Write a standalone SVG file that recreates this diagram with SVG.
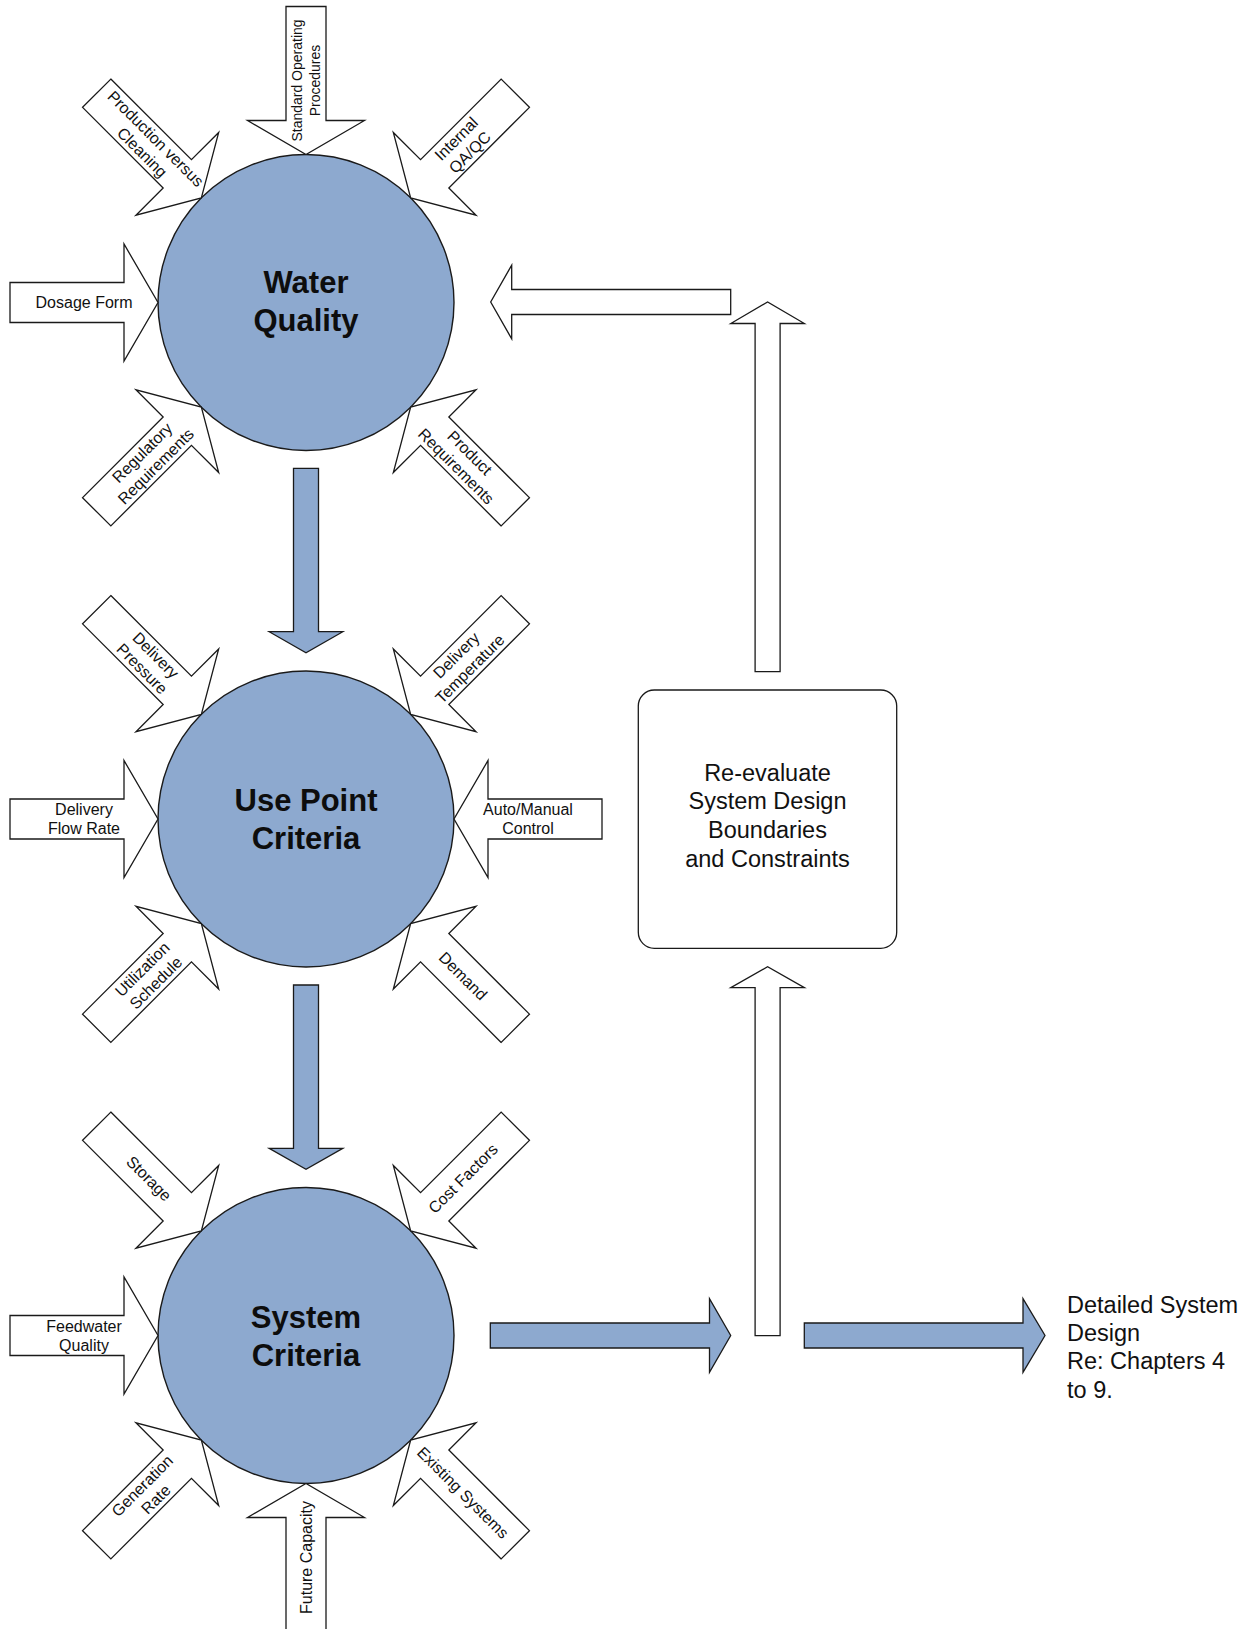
<svg xmlns="http://www.w3.org/2000/svg" xmlns:xlink="http://www.w3.org/1999/xlink" width="1258" height="1629" viewBox="0 0 1258 1629">
  <defs>
    <!-- input arrow: points along +x, tip at the origin -->
    <polygon id="inArrow" points="-148,-20 -34,-20 -34,-58.5 0,0 -34,58.5 -34,20 -148,20"/>
  </defs>
  <style>
    .bg { fill: #ffffff; }
    .hub { fill: #8DA9CF; stroke: #1a1a1a; stroke-width: 1.4; }
    .hubText { font-family: "Liberation Sans", Arial, sans-serif; font-weight: bold; font-size: 31px; fill: #0d0d0d; text-anchor: middle; }
    .in { fill: #ffffff; stroke: #1a1a1a; stroke-width: 1.3; stroke-linejoin: miter; }
    .lbl { font-family: "Liberation Sans", Arial, sans-serif; font-size: 16px; fill: #111111; text-anchor: middle; }
    .lblSm { font-size: 14px; }
    .flowBlue { fill: #8DA9CF; stroke: #1a1a1a; stroke-width: 1.3; }
    .flowWhite { fill: #ffffff; stroke: #1a1a1a; stroke-width: 1.3; }
    .box { fill: #ffffff; stroke: #1a1a1a; stroke-width: 1.3; }
    .boxText { font-family: "Liberation Sans", Arial, sans-serif; font-size: 23.5px; fill: #111111; text-anchor: middle; }
    .outText { font-family: "Liberation Sans", Arial, sans-serif; font-size: 23.5px; fill: #111111; }
  </style>

  <rect class="bg" x="0" y="0" width="1258" height="1629"/>

  <!-- ===== Water Quality ===== -->
  <g id="water-quality">
    <circle class="hub" cx="306" cy="302.5" r="148"/>
    <text class="hubText" x="306" y="293">Water</text>
    <text class="hubText" x="306" y="331">Quality</text>
  </g>
  <g id="wq-sop">
    <use href="#inArrow" class="in" transform="translate(306,154.5) rotate(90)"/>
    <g transform="translate(306,80.5) rotate(-90)">
      <text class="lbl lblSm" x="0" y="-3.8">Standard Operating</text>
      <text class="lbl lblSm" x="0" y="13.5">Procedures</text>
    </g>
  </g>
  <g id="wq-production">
    <use href="#inArrow" class="in" transform="translate(201.35,197.85) rotate(45)"/>
    <g transform="translate(149,145.5) rotate(45)">
      <text class="lbl" x="0" y="-4">Production versus</text>
      <text class="lbl" x="0" y="15.2">Cleaning</text>
    </g>
  </g>
  <g id="wq-qaqc">
    <use href="#inArrow" class="in" transform="translate(410.65,197.85) rotate(135)"/>
    <g transform="translate(463,145.5) rotate(-45)">
      <text class="lbl" x="0" y="-4">Internal</text>
      <text class="lbl" x="0" y="15.2">QA/QC</text>
    </g>
  </g>
  <g id="wq-dosage">
    <use href="#inArrow" class="in" transform="translate(158,302.5)"/>
    <text class="lbl" x="84" y="308.1">Dosage Form</text>
  </g>
  <g id="wq-regulatory">
    <use href="#inArrow" class="in" transform="translate(201.35,407.15) rotate(-45)"/>
    <g transform="translate(149,459.5) rotate(-45)">
      <text class="lbl" x="0" y="-4">Regulatory</text>
      <text class="lbl" x="0" y="15.2">Requirements</text>
    </g>
  </g>
  <g id="wq-product">
    <use href="#inArrow" class="in" transform="translate(410.65,407.15) rotate(-135)"/>
    <g transform="translate(463,459.5) rotate(45)">
      <text class="lbl" x="0" y="-4">Product</text>
      <text class="lbl" x="0" y="15.2">Requirements</text>
    </g>
  </g>

  <!-- ===== Use Point Criteria ===== -->
  <g id="use-point">
    <circle class="hub" cx="306" cy="819" r="148"/>
    <text class="hubText" x="306" y="811">Use Point</text>
    <text class="hubText" x="306" y="849">Criteria</text>
  </g>
  <g id="up-pressure">
    <use href="#inArrow" class="in" transform="translate(201.35,714.35) rotate(45)"/>
    <g transform="translate(149,662) rotate(45)">
      <text class="lbl" x="0" y="-4">Delivery</text>
      <text class="lbl" x="0" y="15.2">Pressure</text>
    </g>
  </g>
  <g id="up-temperature">
    <use href="#inArrow" class="in" transform="translate(410.65,714.35) rotate(135)"/>
    <g transform="translate(463,662) rotate(-45)">
      <text class="lbl" x="0" y="-4">Delivery</text>
      <text class="lbl" x="0" y="15.2">Temperature</text>
    </g>
  </g>
  <g id="up-flow">
    <use href="#inArrow" class="in" transform="translate(158,819)"/>
    <text class="lbl" x="84" y="815">Delivery</text>
    <text class="lbl" x="84" y="834.2">Flow Rate</text>
  </g>
  <g id="up-control">
    <use href="#inArrow" class="in" transform="translate(454,819) rotate(180)"/>
    <text class="lbl" x="528" y="815">Auto/Manual</text>
    <text class="lbl" x="528" y="834.2">Control</text>
  </g>
  <g id="up-schedule">
    <use href="#inArrow" class="in" transform="translate(201.35,923.65) rotate(-45)"/>
    <g transform="translate(149,976) rotate(-45)">
      <text class="lbl" x="0" y="-4">Utilization</text>
      <text class="lbl" x="0" y="15.2">Schedule</text>
    </g>
  </g>
  <g id="up-demand">
    <use href="#inArrow" class="in" transform="translate(410.65,923.65) rotate(-135)"/>
    <g transform="translate(463,976) rotate(45)">
      <text class="lbl" x="0" y="5.6">Demand</text>
    </g>
  </g>

  <!-- ===== System Criteria ===== -->
  <g id="system-criteria">
    <circle class="hub" cx="306" cy="1335.5" r="148"/>
    <text class="hubText" x="306" y="1328">System</text>
    <text class="hubText" x="306" y="1366">Criteria</text>
  </g>
  <g id="sc-storage">
    <use href="#inArrow" class="in" transform="translate(201.35,1230.85) rotate(45)"/>
    <g transform="translate(149,1178.5) rotate(45)">
      <text class="lbl" x="0" y="5.6">Storage</text>
    </g>
  </g>
  <g id="sc-cost">
    <use href="#inArrow" class="in" transform="translate(410.65,1230.85) rotate(135)"/>
    <g transform="translate(463,1178.5) rotate(-45)">
      <text class="lbl" x="0" y="5.6">Cost Factors</text>
    </g>
  </g>
  <g id="sc-feedwater">
    <use href="#inArrow" class="in" transform="translate(158,1335.5)"/>
    <text class="lbl" x="84" y="1331.5">Feedwater</text>
    <text class="lbl" x="84" y="1350.7">Quality</text>
  </g>
  <g id="sc-generation">
    <use href="#inArrow" class="in" transform="translate(201.35,1440.15) rotate(-45)"/>
    <g transform="translate(149,1492.5) rotate(-45)">
      <text class="lbl" x="0" y="-4">Generation</text>
      <text class="lbl" x="0" y="15.2">Rate</text>
    </g>
  </g>
  <g id="sc-capacity">
    <use href="#inArrow" class="in" transform="translate(306,1483.5) rotate(-90)"/>
    <g transform="translate(306,1557.5) rotate(-90)">
      <text class="lbl" x="0" y="5.6">Future Capacity</text>
    </g>
  </g>
  <g id="sc-existing">
    <use href="#inArrow" class="in" transform="translate(410.65,1440.15) rotate(-135)"/>
    <g transform="translate(463,1492.5) rotate(45)">
      <text class="lbl" x="0" y="5.6">Existing Systems</text>
    </g>
  </g>

  <!-- ===== Re-evaluate box ===== -->
  <g id="reevaluate">
    <rect class="box" x="638.3" y="690" width="258.4" height="258.3" rx="16" ry="16"/>
    <text class="boxText" x="767.5" y="780.7">Re-evaluate</text>
    <text class="boxText" x="767.5" y="809.4">System Design</text>
    <text class="boxText" x="767.5" y="838.1">Boundaries</text>
    <text class="boxText" x="767.5" y="866.8">and Constraints</text>
  </g>

  <!-- ===== Outcome ===== -->
  <g id="detailed-design">
    <text class="outText" x="1067" y="1312.7">Detailed System</text>
    <text class="outText" x="1067" y="1341">Design</text>
    <text class="outText" x="1067" y="1369.3">Re: Chapters 4</text>
    <text class="outText" x="1067" y="1397.6">to 9.</text>
  </g>

  <!-- ===== Flow connectors ===== -->
  <g id="connectors">
    <!-- Water Quality -> Use Point Criteria -->
    <polygon class="flowBlue" points="293.5,468.3 318.5,468.3 318.5,631.7 342.8,631.7 306,652.7 269.2,631.7 293.5,631.7"/>
    <!-- Use Point Criteria -> System Criteria -->
    <polygon class="flowBlue" points="293.5,985 318.5,985 318.5,1148.3 342.8,1148.3 306,1169.3 269.2,1148.3 293.5,1148.3"/>
    <!-- System Criteria -> junction -->
    <polygon class="flowBlue" points="490.3,1323 709.5,1323 709.5,1298.7 730.7,1335.5 709.5,1372.3 709.5,1348 490.3,1348"/>
    <!-- junction -> Detailed System Design -->
    <polygon class="flowBlue" points="804.3,1323 1023,1323 1023,1298.7 1045,1335.5 1023,1372.3 1023,1348 804.3,1348"/>
    <!-- junction -> Re-evaluate box -->
    <polygon class="flowWhite" points="755.1,1335.7 755.1,987.7 730.8,987.7 767.6,966.7 804.4,987.7 780.1,987.7 780.1,1335.7"/>
    <!-- Re-evaluate box -> upward return -->
    <polygon class="flowWhite" points="755.1,671.7 755.1,323.5 730.8,323.5 767.6,302 804.4,323.5 780.1,323.5 780.1,671.7"/>
    <!-- return -> Water Quality -->
    <polygon class="flowWhite" points="730.7,289.5 511.7,289.5 511.7,265.2 490.7,302 511.7,338.8 511.7,314.5 730.7,314.5"/>
  </g>
</svg>
